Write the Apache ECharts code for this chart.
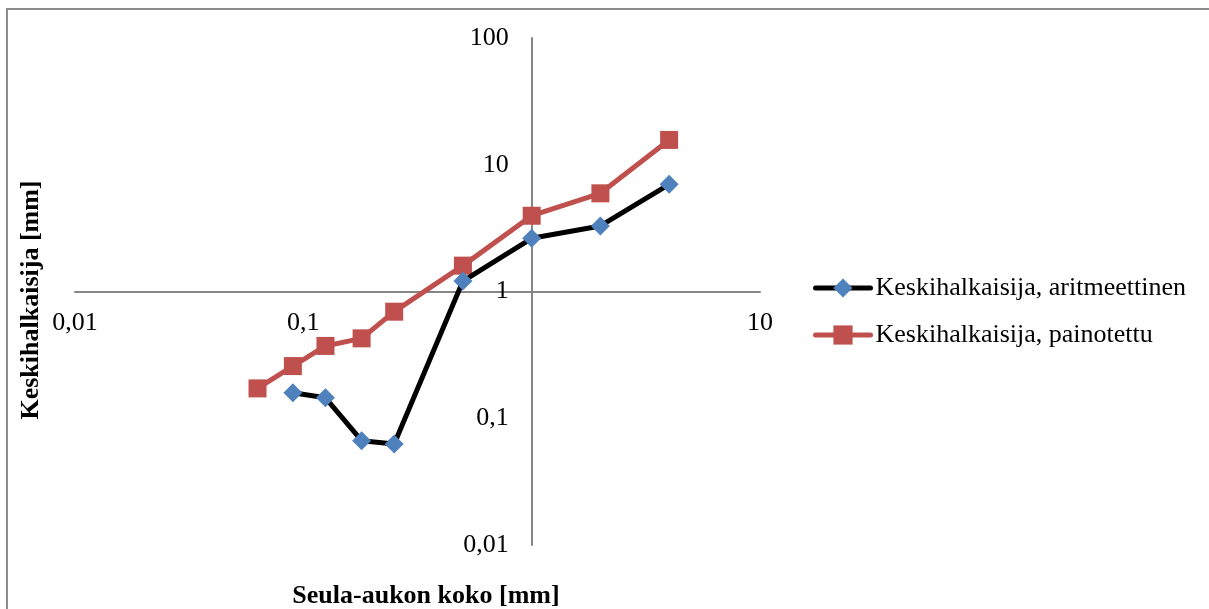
<!DOCTYPE html>
<html>
<head>
<meta charset="utf-8">
<script src="https://cdn.jsdelivr.net/npm/echarts@6/dist/echarts.min.js"></script>
<style>
html,body{margin:0;padding:0;background:#fff;}
#chart{width:1209px;height:609px;}
</style>
</head>
<body>
<div id="chart"></div>
<script>
// Data
const sieveSizes = [0.063, 0.09, 0.125, 0.18, 0.25, 0.5, 1, 2, 4];
const arithSizes = [0.09, 0.125, 0.18, 0.25, 0.5, 1, 2, 4];
const arithValues = [0.159, 0.145, 0.0665, 0.0626, 1.21, 2.63, 3.29, 7.01];
const weightedValues = [0.172, 0.258, 0.372, 0.427, 0.693, 1.60, 3.96, 5.95, 15.7];
const seriesNames = ['Keskihalkaisija, aritmeettinen', 'Keskihalkaisija, painotettu'];
const xTickValues = [0.01, 0.1, 1, 10];
const xTickLabels = ['0,01', '0,1', '', '10'];
const yTickValues = [0.01, 0.1, 1, 10, 100];
const yTickLabels = ['0,01', '0,1', '1', '10', '100'];
const xTitle = 'Seula-aukon koko [mm]';
const yTitle = 'Keskihalkaisija [mm]';

const FONT = "'Liberation Serif', 'Times New Roman', serif";
const grid = {left: 75, right: 449, top: 38, bottom: 64};
const W = 1209, H = 609;
const gridW = W - grid.left - grid.right;
const gridH = H - grid.top - grid.bottom;
const xMin = xTickValues[0], xMax = xTickValues[xTickValues.length - 1];
const yMin = yTickValues[0], yMax = yTickValues[yTickValues.length - 1];
const cross = 1;
const xAxisOffset = -gridH * (Math.log10(cross) - Math.log10(yMin)) / (Math.log10(yMax) - Math.log10(yMin));
const yAxisOffset = -gridW * (Math.log10(cross) - Math.log10(xMin)) / (Math.log10(xMax) - Math.log10(xMin));

function lookup(vals, labels) {
  return function (v) {
    for (let i = 0; i < vals.length; i++) {
      if (Math.abs(Math.log10(v) - Math.log10(vals[i])) < 1e-6) return labels[i];
    }
    return '';
  };
}

const chart = echarts.init(document.getElementById('chart'), null, {renderer: 'canvas'});
chart.setOption({
  backgroundColor: '#ffffff',
  animation: false,
  grid: grid,
  xAxis: {
    type: 'log', logBase: 10, min: xMin, max: xMax,
    position: 'bottom', offset: xAxisOffset,
    axisLine: {show: true, onZero: false, lineStyle: {color: '#868686', width: 2}},
    axisTick: {show: false},
    splitLine: {show: false},
    axisLabel: {formatter: lookup(xTickValues, xTickLabels), margin: 19,
      fontFamily: FONT, fontSize: 26, color: '#000'}
  },
  yAxis: {
    type: 'log', logBase: 10, min: yMin, max: yMax,
    position: 'left', offset: yAxisOffset,
    axisLine: {show: true, onZero: false, lineStyle: {color: '#868686', width: 2}},
    axisTick: {show: false},
    splitLine: {show: false},
    axisLabel: {formatter: lookup(yTickValues, yTickLabels), margin: 23,
      fontFamily: FONT, fontSize: 26, color: '#000'}
  },
  legend: {
    orient: 'vertical', left: 813, top: 275, padding: 0,
    itemWidth: 55, itemHeight: 24, itemGap: 21,
    lineStyle: {width: 5, cap: 'round'},
    textStyle: {fontFamily: FONT, fontSize: 26, color: '#000', lineHeight: 26},
    data: seriesNames
  },
  series: [
    {
      name: seriesNames[0], type: 'line',
      data: arithSizes.map((x, i) => [x, arithValues[i]]),
      symbol: 'diamond', symbolSize: 19,
      lineStyle: {color: '#000000', width: 5},
      itemStyle: {color: '#4F81BD'},
      z: 3
    },
    {
      name: seriesNames[1], type: 'line',
      data: sieveSizes.map((x, i) => [x, weightedValues[i]]),
      symbol: 'rect', symbolSize: 18,
      lineStyle: {color: '#C0504D', width: 5},
      itemStyle: {color: '#C0504D'},
      z: 2
    }
  ],
  graphic: [
    {type: 'rect', shape: {x: 7, y: 9, width: 1300, height: 700},
      style: {fill: 'none', stroke: '#8c8c8c', lineWidth: 2}, silent: true},
    {type: 'text', x: 426, y: 596,
      style: {text: xTitle, font: "bold 26px 'Liberation Serif'", fill: '#000',
        textAlign: 'center', textVerticalAlign: 'middle'}},
    {type: 'text', x: 31, y: 300, rotation: Math.PI / 2,
      style: {text: yTitle, font: "bold 26px 'Liberation Serif'", fill: '#000',
        textAlign: 'center', textVerticalAlign: 'middle'}}
  ]
});
</script>
</body>
</html>
